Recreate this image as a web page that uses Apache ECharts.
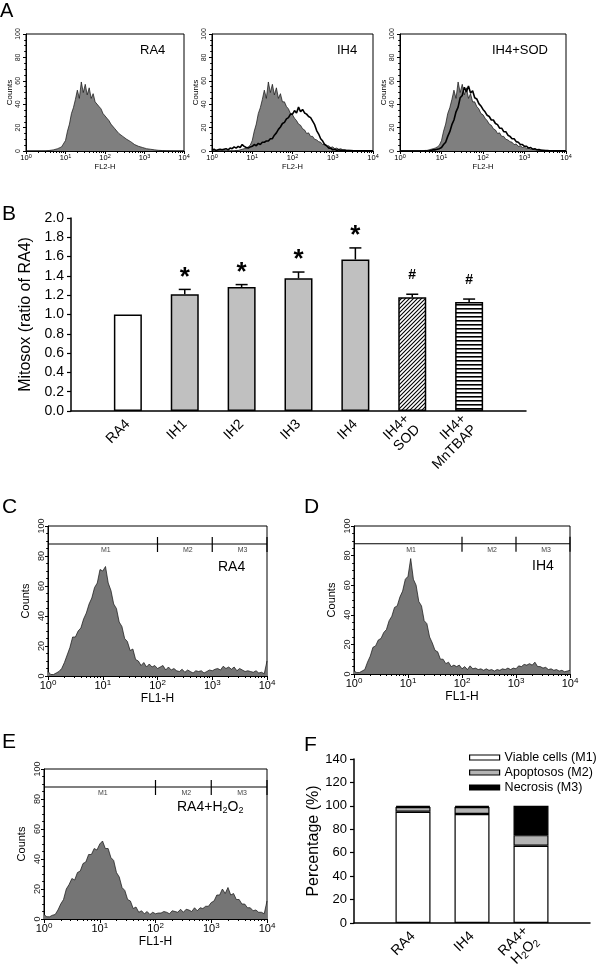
<!DOCTYPE html>
<html><head><meta charset="utf-8">
<script src="https://cdn.jsdelivr.net/npm/echarts@6/dist/echarts.min.js"></script>
<style>html,body{margin:0;padding:0;background:#fff}#c{width:600px;height:974px}</style>
</head><body><div id="c"></div><script>
// ================= DATA =================
// Flow-cytometry histograms: counts per bin, bins of 0.05 decade from 10^0 to 10^4 (81 bins)
const ra4Fl2 = [0,0,0,0,0,0,0,0,0,0,0,0,0.5,0.5,1,1.5,2,2.5,3.5,5,
  9,17,23,32,37,44,52,45,59,50,57,48,54,45,49,42,42,38,36,32,
  31,28,26,23,22,19,18,15,15.5,12.5,12.5,10,9.5,8,7.5,5.5,6,4,4.5,3,
  3.5,2,2.5,1.5,2,1,1.2,0.6,0.9,0.4,0.5,0.2,0.3,0.1,0,0,0,0,0,0,0];
const ih4Fl2 = [0.5,1.5,0.5,1,1.5,1,1.5,2,1,2.5,2,3.5,2.5,4,3,5.5,4,3,2.5,3.5,
  4,5.5,4.5,6.5,5.5,7.5,7.5,8.5,8.5,10.5,10.5,13.5,15.5,18.5,20.5,23.5,24.5,27.5,28.5,31.5,
  31.5,34.5,32.5,37.5,33.5,35.5,32.5,31.5,29.5,28.5,25.5,22.5,17.5,14.5,10.5,8.5,5.5,4.5,2.5,2.5,
  1,1.5,0.5,1,0.5,0.5,0.3,0.4,0.2,0.3,0.2,0.2,0.2,0.2,0.2,0.2,0.2,0.2,0.2,0.2,0.2];
const sodFl2 = [0,0,0,0,0,0,0,0,0,0,0,0,0,0,0,0.5,1,1,1.5,2,
  3,5.5,7.5,12.5,16.5,22.5,26.5,33.5,37.5,45.5,47.5,54.5,50.5,55.5,49.5,51.5,45.5,44.5,40.5,38.5,
  35.5,33.5,30.5,29.5,26.5,26.5,23.5,22.5,19.5,19.5,16.5,16.5,13.5,12.5,10.5,10.5,8,7.5,5.5,5.5,
  4,4,2.5,3,1.5,2,1,1.2,0.6,0.6,0.3,0.4,0.2,0.2,0.2,0.2,0.2,0.2,0.2,0.2,0.2];
const ra4Fl1 = [3,1,1,2,3,5,9,14,19,26,26,30,32,38,42,48,52,59,62,71,
  70,73,62,57,48,45,36,33,25,23,17,18,11,10,7,9,6,8,6,7,
  5,6,7,4,6,4,5,3.5,3,4.5,2.5,4,3,2,3.5,3,3.5,2,3,4,
  3.5,4.5,5,4,6.5,5,6,4.5,6,3.5,5,4,3,3.5,3,2.5,3.5,2,2.5,1.5,10];
const ih4Fl1 = [2,1,1,2,3,8,12,18,19,23,24,28,30,36,39,45,46,52,56,64,
  66,78,64,60,49,46,36,34,25,21,16,15,10,10,7,8,5,6,5,6,
  3.5,5,3,5.5,3.5,4,3,3.5,2.5,3.5,2.5,3,2,3,2.5,3.5,3,4,3,4,
  3.5,5.5,5,6.5,6,7,6,8,5,5,4,4.5,3,3.5,2.5,3,2,2.5,1.5,2,2.5];
const h2o2Fl1 = [3,1.5,1.5,2.5,3,6,10,13,20,23,27,26,31,32,37,38,43,43,47,46,
  50,52,47,47,41,39,31,28,21,19,13,12,7,8,4.5,5.5,3.5,5,3,4.5,
  3.5,4,4,5,4.5,3.5,5.5,5,4.5,6.5,4.5,6.5,6,5,7.5,5.5,7.5,7,8.5,8.5,
  11,12,16,16,20,17,21,16,17,13,13,10,10,7.5,7.5,5.5,6,4.5,4.5,3.5,12];

// Panel B: MitoSOX ratio
const mitoCats = ['RA4','IH1','IH2','IH3','IH4','IH4+\nSOD','IH4+\nMnTBAP'];
const mitoMean = [1.00,1.21,1.285,1.375,1.57,1.18,1.13];
const mitoErr  = [0,0.05,0.025,0.065,0.12,0.03,0.03];
const mitoMarks = ['','*','*','*','*','#','#'];

// Panel F: cell fate percentages
const fateCats = ['RA4','IH4','RA4+H2O2'];
const viable = [95,93,66];
const apopt  = [4,6,9];
const necro  = [1,1,25];
const fateNames = ['Viable cells (M1)','Apoptosos (M2)','Necrosis (M3)'];

// Histogram gates (log10 positions) and labels
const gateEdges = [0,2,3,4];
const gateLabels = ['M1','M2','M3'];
const gateLevel = 88;

// ================= CHART =================
const FONT = 'Liberation Sans';
const chart = echarts.init(document.getElementById('c'), null, {renderer:'canvas', width:600, height:974});
const grids = [], xAxes = [], yAxes = [], series = [];

const minorLogTicks = [];
for (let d = 0; d < 4; d++) for (let k = 2; k <= 9; k++) minorLogTicks.push(d + Math.log10(k));

function addHist(p) {
  const g = grids.length;
  const sm = p.small;
  grids.push({left:p.left, top:p.top, width:p.width, height:p.height, show:true,
    borderColor:'#000', borderWidth:1, backgroundColor:'transparent', containLabel:false, outerBoundsMode:'none'});
  const xCat = xAxes.length;
  xAxes.push({type:'category', gridIndex:g, show:false, boundaryGap:false, position:'bottom',
    data:p.fill.map((_, i) => i)});
  const xLog = xAxes.length;
  xAxes.push({type:'value', gridIndex:g, position:'bottom', min:0, max:4, interval:1,
    axisLine:{show:true, onZero:false, lineStyle:{color:'#000', width:1}},
    axisTick:{show:true, length:sm ? 3 : 4, lineStyle:{color:'#000'}},
    splitLine:{show:false},
    axisLabel:{margin:sm ? 2 : 3, fontFamily:FONT, fontSize:sm ? 7.5 : 11, color:'#000',
      formatter:v => '10{s|' + Math.round(v) + '}',
      rich:{s:{fontSize:sm ? 5.5 : 8, fontFamily:FONT, color:'#000', padding:[0,0,sm ? 4 : 6,0]}}},
    name:p.xName, nameLocation:'middle', nameGap:p.xNameGap,
    nameTextStyle:{fontFamily:FONT, fontSize:sm ? 7.5 : 12, color:'#000'}});
  xAxes.push({type:'value', gridIndex:g, position:'bottom', min:0, max:4,
    axisLine:{show:false}, splitLine:{show:false}, axisLabel:{show:false},
    axisTick:{show:true, length:2, customValues:minorLogTicks, lineStyle:{color:'#000'}}});
  const y = yAxes.length;
  yAxes.push({type:'value', gridIndex:g, min:0, max:100, interval:20,
    axisLine:{show:true, onZero:false, lineStyle:{color:'#000'}}, splitLine:{show:false},
    axisTick:{show:true, length:3, lineStyle:{color:'#000'}},
    minorTick:{show:true, splitNumber:4, length:1.8, lineStyle:{color:'#000'}},
    axisLabel:{rotate:90, margin:sm ? 4 : 2, fontFamily:FONT, fontSize:sm ? 7 : 9, color:'#222'},
    name:'Counts', nameLocation:'middle', nameGap:p.yNameGap,
    nameTextStyle:{fontFamily:FONT, fontSize:sm ? 8 : 11, color:'#000'}});
  series.push({type:'line', xAxisIndex:xCat, yAxisIndex:y, data:p.fill, symbol:'none',
    lineStyle:{color:'#111', width:0.7}, areaStyle:{color:p.fillColor, opacity:1}, silent:true});
  if (p.line) series.push({type:'line', xAxisIndex:xCat, yAxisIndex:y, data:p.line, symbol:'none',
    lineStyle:{color:'#000', width:1.6}, silent:true});
  if (p.gates) {
    series.push({type:'custom', xAxisIndex:xLog, yAxisIndex:y, silent:true, clip:false,
      data:gateLabels.map((l, i) => [gateEdges[i], gateEdges[i + 1]]),
      renderItem:(params, api) => {
        const a = api.coord([api.value(0), gateLevel]);
        const b = api.coord([api.value(1), gateLevel]);
        const m = api.coord([(api.value(0) + api.value(1)) / 2, gateLevel]);
        return {type:'group', children:[
          {type:'line', shape:{x1:a[0], y1:a[1], x2:b[0], y2:b[1]}, style:{stroke:'#000', lineWidth:1.2}},
          {type:'line', shape:{x1:b[0], y1:b[1] - 7, x2:b[0], y2:b[1] + 8}, style:{stroke:'#000', lineWidth:1.2}},
          {type:'text', x:m[0] + 3, y:a[1] + 3, style:{text:gateLabels[params.dataIndex], fontSize:7,
            fontFamily:FONT, fill:'#444', align:'center', verticalAlign:'top'}}
        ]};
      }});
  }
}

// Panel A
addHist({left:26, top:34, width:158, height:117, small:true, fill:ra4Fl2, fillColor:'#7f7f7f',
  xName:'FL2-H', xNameGap:10, yNameGap:12});
addHist({left:212, top:34, width:161, height:117, small:true, fill:ra4Fl2, line:ih4Fl2, fillColor:'#7f7f7f',
  xName:'FL2-H', xNameGap:10, yNameGap:12});
addHist({left:400, top:34, width:166, height:117, small:true, fill:ra4Fl2, line:sodFl2, fillColor:'#7f7f7f',
  xName:'FL2-H', xNameGap:10, yNameGap:12});
// Panels C, D, E
addHist({left:48, top:526, width:219, height:150, fill:ra4Fl1, fillColor:'#757575', gates:true,
  xName:'FL1-H', xNameGap:15, yNameGap:17});
addHist({left:354, top:526, width:216, height:148, fill:ih4Fl1, fillColor:'#757575', gates:true,
  xName:'FL1-H', xNameGap:15, yNameGap:17});
addHist({left:44, top:769, width:223, height:150, fill:h2o2Fl1, fillColor:'#757575', gates:true,
  xName:'FL1-H', xNameGap:14, yNameGap:17});

// Patterns for panel B
function makePattern(kind) {
  const c = document.createElement('canvas'); c.width = 4; c.height = 4;
  const x = c.getContext('2d');
  x.fillStyle = '#fff'; x.fillRect(0, 0, 4, 4);
  if (kind === 'diag') {
    x.strokeStyle = '#000'; x.lineWidth = 1.1; x.beginPath();
    x.moveTo(0, 4); x.lineTo(4, 0); x.moveTo(-1, 1); x.lineTo(1, -1); x.moveTo(3, 5); x.lineTo(5, 3);
    x.stroke();
  } else {
    x.fillStyle = '#000'; x.fillRect(0, 0, 4, 1);
    x.fillStyle = '#666'; x.fillRect(0, 1, 4, 1);
  }
  return c;
}
const mitoFills = ['#ffffff','#c0c0c0','#c0c0c0','#c0c0c0','#c0c0c0',
  {image:makePattern('diag'), repeat:'repeat'}, {image:makePattern('horiz'), repeat:'repeat'}];

// Panel B
const gB = grids.length;
grids.push({left:71, top:218, width:455, height:193, containLabel:false, outerBoundsMode:'none'});
const xB = xAxes.length;
xAxes.push({type:'category', gridIndex:gB, boundaryGap:false, data:['', ...mitoCats, ''],
  axisLine:{lineStyle:{color:'#000', width:1.5}}, axisTick:{show:false},
  axisLabel:{interval:0, rotate:45, margin:11, fontFamily:FONT, fontSize:14, color:'#000', lineHeight:15}});
const yB = yAxes.length;
yAxes.push({type:'value', gridIndex:gB, min:0, max:2, interval:0.2,
  axisLine:{show:true, onZero:false, lineStyle:{color:'#000', width:1.5}}, splitLine:{show:false},
  axisTick:{show:true, length:4, lineStyle:{color:'#000', width:1.2}},
  axisLabel:{margin:7, fontFamily:FONT, fontSize:14, color:'#000', formatter:v => v.toFixed(1)},
  name:'Mitosox (ratio of RA4)', nameLocation:'middle', nameGap:36,
  nameTextStyle:{fontFamily:FONT, fontSize:16, color:'#000'}});
series.push({type:'bar', xAxisIndex:xB, yAxisIndex:yB, barWidth:28, silent:true,
  data:['-', ...mitoMean.map((v, i) => ({value:v, itemStyle:{color:mitoFills[i]}})), '-'],
  itemStyle:{borderColor:'#000', borderWidth:1.5}});
series.push({type:'custom', xAxisIndex:xB, yAxisIndex:yB, silent:true, clip:false, z:5,
  data:mitoMean.map((m, i) => [i + 1, m, m + mitoErr[i]]),
  renderItem:(params, api) => {
    const p0 = api.coord([api.value(0), api.value(1)]);
    const p1 = api.coord([api.value(0), api.value(2)]);
    const ch = [];
    if (api.value(2) > api.value(1)) {
      ch.push({type:'line', shape:{x1:p0[0], y1:p0[1], x2:p1[0], y2:p1[1]}, style:{stroke:'#000', lineWidth:1.5}});
      ch.push({type:'line', shape:{x1:p1[0] - 6, y1:p1[1], x2:p1[0] + 6, y2:p1[1]}, style:{stroke:'#000', lineWidth:1.5}});
    }
    const mk = mitoMarks[params.dataIndex];
    if (mk === '*') ch.push({type:'text', x:p1[0], y:p1[1] - 12, style:{text:'*', fontSize:26, fontWeight:'bold',
      fontFamily:FONT, fill:'#000', align:'center', verticalAlign:'middle'}});
    if (mk === '#') ch.push({type:'text', x:p1[0], y:p1[1] - 19, style:{text:'#', fontSize:14, fontWeight:'bold',
      fontFamily:FONT, fill:'#000', align:'center', verticalAlign:'middle'}});
    return {type:'group', children:ch};
  }});

// Panel F
const gF = grids.length;
grids.push({left:354, top:759, width:236, height:164, containLabel:false, outerBoundsMode:'none'});
const xF = xAxes.length;
xAxes.push({type:'category', gridIndex:gF, boundaryGap:false, data:['', ...fateCats, ''],
  axisLine:{lineStyle:{color:'#000', width:1.5}}, axisTick:{show:false},
  axisLabel:{interval:0, rotate:45, margin:11, fontFamily:FONT, fontSize:14, color:'#000', lineHeight:15,
    formatter:v => v.replace('+H2O2', '+\nH{sub|2}O{sub|2}'),
    rich:{sub:{fontSize:10, fontFamily:FONT, color:'#000', padding:[7,0,0,0]}}}});
const yF = yAxes.length;
yAxes.push({type:'value', gridIndex:gF, min:0, max:140, interval:20,
  axisLine:{show:true, onZero:false, lineStyle:{color:'#000', width:1.5}}, splitLine:{show:false},
  axisTick:{show:true, length:4, lineStyle:{color:'#000', width:1.2}},
  axisLabel:{margin:7, fontFamily:FONT, fontSize:13, color:'#000'},
  name:'Percentage (%)', nameLocation:'middle', nameGap:27,
  nameTextStyle:{fontFamily:FONT, fontSize:16, color:'#000'}});
const fateVals = [viable, apopt, necro];
const fateColors = ['#ffffff', '#b4b4b4', '#000000'];
fateVals.forEach((vals, k) => {
  series.push({type:'bar', name:fateNames[k], xAxisIndex:xF, yAxisIndex:yF, stack:'fate', barWidth:35, silent:true,
    data:['-', ...vals, '-'], itemStyle:{color:fateColors[k], borderColor:'#000', borderWidth:1.2}});
});

function txt(t, x, y, size, extra) {
  return {type:'text', left:x, top:y, silent:true,
    style:Object.assign({text:t, fontSize:size, fontFamily:FONT, fill:'#000'}, extra || {})};
}

chart.setOption({
  animation:false,
  backgroundColor:'#fff',
  textStyle:{fontFamily:FONT},
  grid:grids, xAxis:xAxes, yAxis:yAxes, series:series,
  legend:{data:fateNames, orient:'vertical', left:469, top:751, padding:0, itemWidth:30, itemHeight:5, itemGap:2,
    icon:'rect', selectedMode:false, textStyle:{fontFamily:FONT, fontSize:12.5, color:'#000'},
    itemStyle:{borderColor:'#000', borderWidth:1.2}},
  graphic:[
    txt('A', 0, 1, 20), txt('B', 2, 204, 21), txt('C', 2, 497, 21), txt('D', 304, 497, 21),
    txt('E', 2, 732, 21), txt('F', 304, 735, 21),
    txt('RA4', 140, 44, 13), txt('IH4', 337, 44, 13), txt('IH4+SOD', 492, 44, 13),
    txt('RA4', 218, 560, 14), txt('IH4', 532, 559, 14),
    txt('RA4+H{s|2}O{s|2}', 177, 800, 14, {rich:{s:{fontSize:9, fontFamily:FONT, fill:'#000', padding:[8,0,0,0]}}})
  ]
});
</script></body></html>
